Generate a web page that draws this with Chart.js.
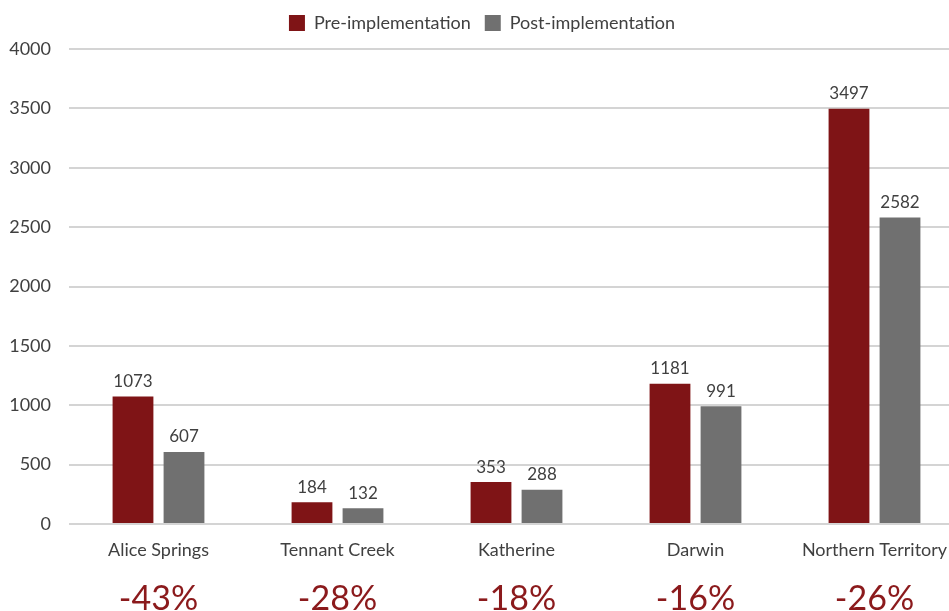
<!DOCTYPE html>
<html>
<head>
<meta charset="utf-8">
<script src="https://cdn.jsdelivr.net/npm/chart.js@4.4.1/dist/chart.umd.min.js"></script>
<style>
  html, body { margin: 0; padding: 0; background: #fff; overflow: hidden; }
  #wrap { width: 949px; height: 611px; overflow: hidden; }
  #box { width: 964px; height: 611px; }
</style>
</head>
<body>
<div id="wrap"><div id="box"><canvas id="chart"></canvas></div></div>
<script>
// Chart data
const regions = ['Alice Springs', 'Tennant Creek', 'Katherine', 'Darwin', 'Northern Territory'];
const preValues = [1073, 184, 353, 1181, 3497];
const postValues = [607, 132, 288, 991, 2582];
const changeLabels = ['-43%', '-28%', '-18%', '-16%', '-26%'];
const yTicks = [0, 500, 1000, 1500, 2000, 2500, 3000, 3500, 4000];

const FONT = 'Lato, "Open Sans", sans-serif';
const TEXT = '#404040';

// extra room under the legend
const legendMargin = {
  id: 'legendMargin',
  beforeInit(chart) {
    const fit = chart.legend.fit;
    chart.legend.fit = function () {
      fit.bind(chart.legend)();
      this.height += 7;
    };
  }
};

// draws the numbers above bars and the % change row below the axis
const labelPlugin = {
  id: 'labels',
  afterDatasetsDraw(chart) {
    const ctx = chart.ctx;
    ctx.save();
    ctx.font = '17px ' + FONT;
    ctx.fillStyle = TEXT;
    ctx.textAlign = 'center';
    ctx.textBaseline = 'middle';
    chart.data.datasets.forEach((ds, i) => {
      chart.getDatasetMeta(i).data.forEach((bar, j) => {
        ctx.fillText(ds.data[j], bar.x, bar.y - 15);
      });
    });
    const xs = chart.scales.x;
    ctx.font = '34px ' + FONT;
    ctx.fillStyle = '#8b1a1c';
    changeLabels.forEach((t, j) => {
      ctx.fillText(t, xs.getPixelForValue(j), chart.chartArea.bottom + 75);
    });
    ctx.restore();
  }
};

const ctx = document.getElementById('chart').getContext('2d');
new Chart(ctx, {
  type: 'bar',
  data: {
    labels: regions,
    datasets: [
      { label: 'Pre-implementation', data: preValues, backgroundColor: '#7f1416' },
      { label: 'Post-implementation', data: postValues, backgroundColor: '#707070' }
    ]
  },
  options: {
    responsive: true,
    maintainAspectRatio: false,
    animation: false,
    categoryPercentage: 0.57,
    barPercentage: 0.8,
    layout: { padding: { top: 0, bottom: 0 } },
    plugins: {
      legend: {
        position: 'top',
        labels: {
          font: { family: FONT, size: 18 },
          color: TEXT,
          boxWidth: 16,
          boxHeight: 16,
          padding: 14
        }
      },
      tooltip: { enabled: false }
    },
    scales: {
      x: {
        grid: { display: false },
        border: { display: false },
        ticks: { font: { family: FONT, size: 18 }, color: TEXT, padding: 7 },
        afterFit(s) { s.height = 87; }
      },
      y: {
        min: 0,
        max: 4000,
        afterBuildTicks(s) { s.ticks = yTicks.map(v => ({ value: v })); },
        grid: { color: '#d4d4d4', lineWidth: 2, drawTicks: false },
        border: { display: false },
        ticks: { font: { family: FONT, size: 18 }, color: TEXT, padding: 18, callback: v => String(v) },
        afterFit(s) { s.width = 69; }
      }
    }
  },
  plugins: [legendMargin, labelPlugin]
});
</script>
</body>
</html>
